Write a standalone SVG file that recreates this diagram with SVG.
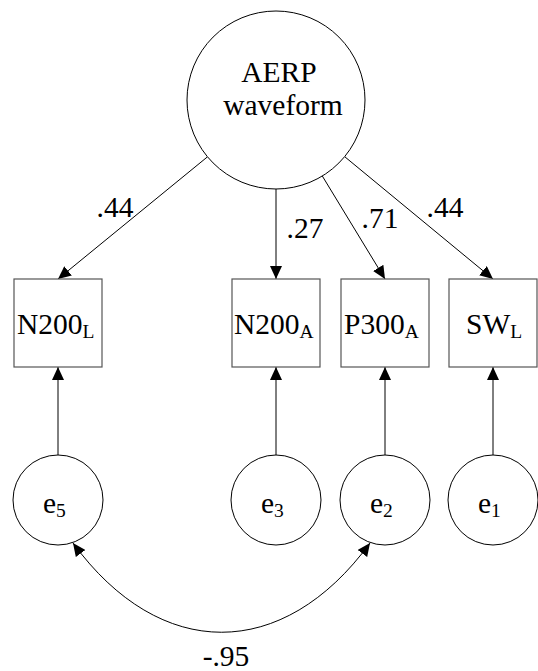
<svg xmlns="http://www.w3.org/2000/svg" width="538" height="671" viewBox="0 0 538 671">
<style>
  text { font-family: 'Liberation Serif', 'Times New Roman', serif; font-size: 29.5px; fill: #000; }
  .sub { font-size: 19.5px; }
  .node { fill: #fff; stroke: #000; stroke-width: 1; }
  .box { fill: #fff; stroke: #555; stroke-width: 1.2; }
  .edge { fill: none; stroke: #000; stroke-width: 1; }
</style>
<defs>
  <marker id="arr" markerUnits="userSpaceOnUse" markerWidth="13" markerHeight="12" refX="13" refY="6" orient="auto-start-reverse" viewBox="0 0 13 12">
    <path d="M0,0 L13,6 L0,12 z" fill="#000"/>
  </marker>
</defs>
<rect width="538" height="671" fill="#fff"/>

<g id="connectors">
  <line class="edge" x1="207.5" y1="156.8" x2="58" y2="279" marker-end="url(#arr)"/>
  <line class="edge" x1="276" y1="189" x2="276" y2="279" marker-end="url(#arr)"/>
  <line class="edge" x1="322.3" y1="176" x2="385" y2="279" marker-end="url(#arr)"/>
  <line class="edge" x1="344.6" y1="156.6" x2="493" y2="279" marker-end="url(#arr)"/>
  <line class="edge" x1="58" y1="455" x2="58" y2="367" marker-end="url(#arr)"/>
  <line class="edge" x1="276" y1="455" x2="276" y2="367" marker-end="url(#arr)"/>
  <line class="edge" x1="385" y1="455" x2="385" y2="367" marker-end="url(#arr)"/>
  <line class="edge" x1="493" y1="455" x2="493" y2="367" marker-end="url(#arr)"/>
  <path class="edge" d="M73,543 C160,662 283,662 370,543" marker-start="url(#arr)" marker-end="url(#arr)"/>
  <text x="115" y="217" text-anchor="middle">.44</text>
  <text x="305" y="238" text-anchor="middle">.27</text>
  <text x="380" y="228" text-anchor="middle">.71</text>
  <text x="445" y="217" text-anchor="middle">.44</text>
  <text x="226" y="666" text-anchor="middle">-.95</text>
</g>

<g id="aerp">
  <circle class="node" cx="276" cy="100" r="89"/>
  <text x="279" y="82" text-anchor="middle">AERP</text>
  <text x="283" y="115" text-anchor="middle">waveform</text>
</g>

<g id="n200l">
  <rect class="box" x="14" y="279" width="88" height="88"/>
  <text x="17" y="334">N200<tspan class="sub" dy="4">L</tspan></text>
</g>
<g id="n200a">
  <rect class="box" x="232" y="279" width="88" height="88"/>
  <text x="234" y="334">N200<tspan class="sub" dy="4">A</tspan></text>
</g>
<g id="p300a">
  <rect class="box" x="341" y="279" width="88" height="88"/>
  <text x="344" y="334">P300<tspan class="sub" dy="4">A</tspan></text>
</g>
<g id="swl">
  <rect class="box" x="449" y="279" width="88" height="88"/>
  <text x="466" y="334">SW<tspan class="sub" dy="4">L</tspan></text>
</g>

<g id="e5">
  <circle class="node" cx="58" cy="500" r="45"/>
  <text x="43" y="513">e<tspan class="sub" dy="4">5</tspan></text>
</g>
<g id="e3">
  <circle class="node" cx="276" cy="500" r="45"/>
  <text x="261" y="513">e<tspan class="sub" dy="4">3</tspan></text>
</g>
<g id="e2">
  <circle class="node" cx="385" cy="500" r="45"/>
  <text x="370" y="513">e<tspan class="sub" dy="4">2</tspan></text>
</g>
<g id="e1">
  <circle class="node" cx="493" cy="500" r="45"/>
  <text x="478" y="513">e<tspan class="sub" dy="4">1</tspan></text>
</g>
</svg>
